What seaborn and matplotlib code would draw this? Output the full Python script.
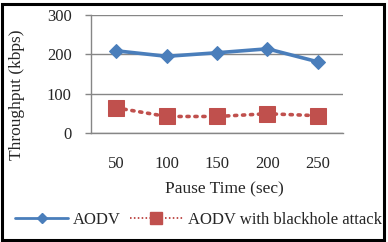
import matplotlib
matplotlib.use("Agg")
import matplotlib.pyplot as plt
import seaborn as sns
import pandas as pd
import numpy as np
from matplotlib.patches import Rectangle
from matplotlib.lines import Line2D

categories = ["50", "100", "150", "200", "250"]
aodv = [209, 195, 204, 214, 181]
blackhole = [64, 42, 42, 49, 44]
series_names = ["AODV", "AODV with blackhole attack"]
y_ticks = [0, 100, 200, 300]

sns.set_theme(style="white")
plt.rcParams['font.family'] = ['Liberation Serif', 'DejaVu Serif']

pos = np.arange(len(categories))
df = pd.DataFrame({
    "pos": np.concatenate([pos, pos]),
    "value": aodv + blackhole,
    "series": [series_names[0]] * len(categories) + [series_names[1]] * len(categories),
})

W, H = 388, 242
fig = plt.figure(figsize=(W / 100, H / 100), dpi=100)
ax = fig.add_axes([91 / W, 1 - 133 / H, (343 - 91) / W, (133 - 15) / H])

blue = "#4A7EBB"
red = "#C0504D"
dots = (0, (0.6, 1.6))
sns.lineplot(data=df[df.series == series_names[0]], x="pos", y="value", ax=ax,
             color=blue, lw=2.6, marker="D", markersize=7, markeredgecolor=blue)
sns.lineplot(data=df[df.series == series_names[1]], x="pos", y="value", ax=ax,
             color=red, lw=2.6, linestyle=dots, dash_capstyle="round",
             marker="s", markersize=11, markeredgecolor=red)

ax.set_xlim(-0.5, len(categories) - 0.5)
ax.set_ylim(0, 300)
ax.set_yticks(y_ticks)
ax.yaxis.grid(True, color="#868686", lw=1)
ax.set_axisbelow(True)

ax.set_xticks(np.arange(-0.5, len(categories), 1.0))
ax.set_xticklabels([])
ax.set_xticks(pos, minor=True)
ax.set_xticklabels(categories, minor=True)
ax.tick_params(axis="x", which="major", length=4, width=1, color="#868686", direction="out")
ax.tick_params(axis="x", which="minor", length=0, pad=16.5, labelsize=12)
ax.tick_params(axis="y", length=4, width=1, color="#868686", direction="out", left=True,
               pad=10, labelsize=12)

for s in ["top", "right"]:
    ax.spines[s].set_visible(False)
for s in ["left", "bottom"]:
    ax.spines[s].set_color("#868686")
    ax.spines[s].set_linewidth(1)

ax.set_xlabel("")
ax.set_ylabel("")
fig.text(224 / W, 1 - 189 / H, "Pause Time (sec)", ha="center", va="center", fontsize=12.5)
fig.text(17 / W, 1 - 95 / H, "Throughput (kbps)", ha="center", va="center",
         rotation=90, fontsize=12.5)

handles = [
    Line2D([], [], color=blue, lw=2, marker="D", markersize=5, markeredgecolor=blue),
    Line2D([], [], color=red, lw=1.4, linestyle=(0, (0.8, 1.2)), marker="s",
           markersize=8, markeredgecolor=red),
]
fig.legend(handles, series_names, loc="center left", bbox_to_anchor=(15 / W, 1 - 220 / H),
           ncol=2, frameon=False, fontsize=12, handlelength=3.2, columnspacing=0.5,
           handletextpad=0.3, borderaxespad=0, borderpad=0)

fig.patches.append(Rectangle((1.5 / W, 2 / H), (384 - 1.5) / W, (238.5 - 2) / H,
                             transform=fig.transFigure, fill=False, ec="black", lw=2.2))

fig.savefig("out.png", dpi=100)
